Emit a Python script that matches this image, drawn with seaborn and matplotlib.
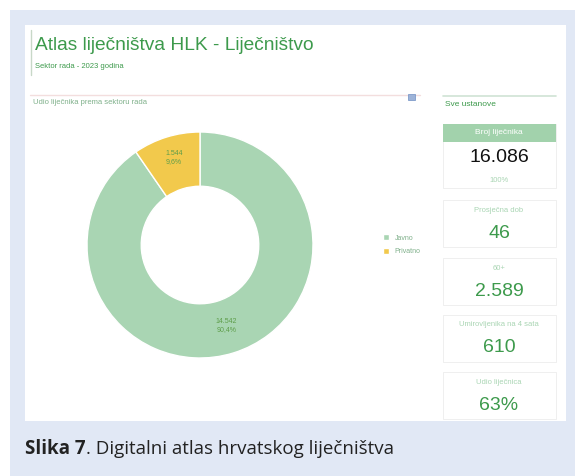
import matplotlib
matplotlib.use("Agg")
from matplotlib import pyplot as plt
from matplotlib.patches import Rectangle
import numpy as np
import seaborn as sns

sectors = ["Javno", "Privatno"]
doctors = [14542, 1544]
share_labels = ["90,4%", "9,6%"]
count_labels = ["14.542", "1.544"]

card_titles = ["Prosječna dob", "60+", "Umirovljenika na 4 sata", "Udio liječnica"]
card_values = ["46", "2.589", "610", "63%"]

sns.set_theme(style="white")
plt.rcParams["font.family"] = ["Liberation Sans", "DejaVu Sans"]
colors = ["#a9d5b3", "#f2c94c"]

W, H = 575, 476
fig = plt.figure(figsize=(W / 100, H / 100), dpi=100)
fig.patch.set_facecolor("white")


def fx(x):
    return x / W


def fy(y):
    return 1 - y / H


def box(x0, y0, x1, y1, **kw):
    fig.patches.append(Rectangle((fx(x0), fy(y1)), fx(x1) - fx(x0), fy(y0) - fy(y1),
                                 transform=fig.transFigure, **kw))


# background panel and white card
box(10, 10, 575, 476, facecolor="#e1e8f5", edgecolor="none", zorder=0)
box(25, 25, 566, 421, facecolor="white", edgecolor="none", zorder=1)

# header
fig.add_artist(plt.Line2D([fx(31), fx(31)], [fy(30), fy(75)], color="#c8d8c8", lw=1,
                          transform=fig.transFigure))
fig.text(fx(35), fy(46), "Atlas liječništva HLK - Liječništvo", fontsize=13.8,
         color="#3d9a4c", va="center")
fig.text(fx(35), fy(66), "Sektor rada - 2023 godina", fontsize=5.5,
         color="#3d9a4c", va="center")

# pie section header
fig.add_artist(plt.Line2D([fx(30), fx(420)], [fy(95), fy(95)], color="#f3dede", lw=1,
                          transform=fig.transFigure))
fig.text(fx(33), fy(103), "Udio liječnika prema sektoru rada", fontsize=5.5,
         color="#7fb08a", va="center")
box(408, 94, 415, 100, facecolor="#9db3d8", edgecolor="#6f8fc4", lw=0.5, zorder=2)

# donut
cx, cy, r = 200, 245, 113
ax = fig.add_axes([fx(cx - r), fy(cy + r), fx(2 * r), fy(cy - r) - fy(cy + r)])
ax.set_zorder(5)
ax.patch.set_alpha(0)
wedges, _ = ax.pie(doctors, colors=colors, startangle=90, counterclock=False,
                   radius=1, wedgeprops=dict(width=0.48, edgecolor="white", linewidth=1))
for w, c, p in zip(wedges, count_labels, share_labels):
    ang = np.deg2rad((w.theta1 + w.theta2) / 2)
    ax.text(0.78 * np.cos(ang), 0.78 * np.sin(ang) + 0.03, c + "\n" + p, ha="center",
            va="center", fontsize=5, color="#5e9e4a", linespacing=1.2)
ax.set_xlim(-1, 1)
ax.set_ylim(-1, 1)
ax.axis("off")

# legend
leg = fig.legend(wedges, sectors, loc="upper left",
                 bbox_to_anchor=(fx(377), fy(228)), frameon=False, fontsize=5,
                 handlelength=0.9, handleheight=0.9, handletextpad=0.7, labelspacing=0.9)
leg.set_zorder(6)
for t in leg.get_texts():
    t.set_color("#7fb08a")

# right panel
fig.add_artist(plt.Line2D([fx(443), fx(556)], [fy(96), fy(96)], color="#cfe3d4", lw=1.2,
                          transform=fig.transFigure))
fig.text(fx(445), fy(104), "Sve ustanove", fontsize=6, color="#3d9a4c", va="center")

box(443, 124, 556, 188, facecolor="white", edgecolor="#ececec", lw=0.6, zorder=2)
box(443, 124, 556, 142, facecolor="#a2d2ac", edgecolor="none", zorder=3)
fig.text(fx(499), fy(133), "Broj liječnika", fontsize=6, color="white",
         ha="center", va="center", zorder=4)
fig.text(fx(499), fy(158), f"{sum(doctors):,}".replace(",", "."), fontsize=14,
         color="#111111", ha="center", va="center", zorder=4)
fig.text(fx(499), fy(180), "100%", fontsize=5.5, color="#a9d5b3",
         ha="center", va="center", zorder=4)

tops = [200, 258, 315, 372]
for top, title, val in zip(tops, card_titles, card_values):
    box(443, top, 556, top + 47, facecolor="white", edgecolor="#ececec", lw=0.6, zorder=2)
    fig.text(fx(499), fy(top + 10), title, fontsize=5.5, color="#a9d5b3",
             ha="center", va="center", zorder=4)
    fig.text(fx(499), fy(top + 33), val, fontsize=14, color="#3d9a4c",
             ha="center", va="center", zorder=4)

# caption
cap = fig.text(fx(25), fy(449), "Slika 7", fontsize=13.5, fontweight="bold",
               color="#222222", va="center", family=["Open Sans", "DejaVu Sans"])
fig.canvas.draw()
bb = cap.get_window_extent()
fig.text(bb.x1 / W, fy(449), ". Digitalni atlas hrvatskog liječništva", fontsize=13.5,
         color="#222222", va="center", family=["Open Sans", "DejaVu Sans"])

plt.savefig("out.png", dpi=100)
